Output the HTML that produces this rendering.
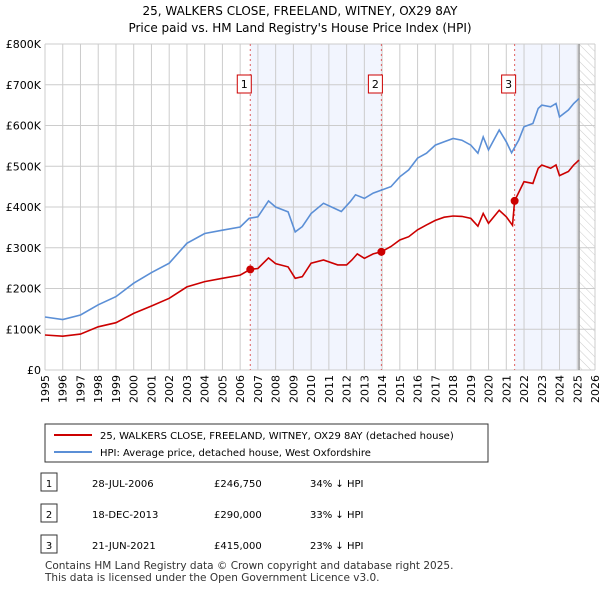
<!DOCTYPE html>
<html><head><meta charset="utf-8"><style>
body{margin:0;background:#fff;font-family:"DejaVu Sans",sans-serif;}
svg text{font-family:"DejaVu Sans","Liberation Sans",sans-serif;}
</style></head><body>
<svg id="c" width="600" height="590" xmlns="http://www.w3.org/2000/svg">
<defs><pattern id="hatch" width="6" height="6" patternUnits="userSpaceOnUse" patternTransform="rotate(-45)"><line x1="0" y1="0" x2="0" y2="6" stroke="#ccc" stroke-width="1"/></pattern></defs>
<text x="300" y="15" text-anchor="middle" font-size="12">25, WALKERS CLOSE, FREELAND, WITNEY, OX29 8AY</text>
<text x="300" y="32" text-anchor="middle" font-size="12">Price paid vs. HM Land Registry's House Price Index (HPI)</text>
<g id="plot"></g>
<g>
<rect x="45" y="424" width="443" height="38" fill="#fff" stroke="#333"/>
<line x1="54" y1="435" x2="92" y2="435" stroke="#cc0000" stroke-width="2"/>
<text x="100" y="439" font-size="10">25, WALKERS CLOSE, FREELAND, WITNEY, OX29 8AY (detached house)</text>
<line x1="54" y1="452" x2="92" y2="452" stroke="#5b8fd6" stroke-width="2"/>
<text x="100" y="456" font-size="10">HPI: Average price, detached house, West Oxfordshire</text>
</g>
<g id="table" font-size="10"></g>
<text x="45" y="569" font-size="10.5" fill="#333">Contains HM Land Registry data © Crown copyright and database right 2025.</text>
<text x="45" y="581" font-size="10.5" fill="#333">This data is licensed under the Open Government Licence v3.0.</text>
</svg>
<script>
const hpiYears=[1995,1996,1997,1998,1999,2000,2001,2002,2003,2004,2005,2006,2006.5,2007,2007.6,2008,2008.7,2009.1,2009.5,2010,2010.7,2011.7,2012.2,2012.5,2013,2013.5,2014,2014.5,2015,2015.5,2016,2016.5,2017,2017.5,2018,2018.5,2019,2019.4,2019.7,2020,2020.6,2021,2021.3,2021.7,2022,2022.5,2022.8,2023,2023.5,2023.8,2024,2024.5,2024.8,2025.1];
const hpiValues=[130,124,135,160,180,213,239,262,311,335,343,351,372,376,415,400,388,339,352,384,409,389,413,430,421,434,442,450,474,491,520,532,552,560,568,564,552,532,572,540,589,560,533,564,597,605,642,650,646,654,621,638,654,666];
const ppYears=[1995,1996,1997,1998,1999,2000,2001,2002,2003,2004,2005,2006,2006.57,2007,2007.6,2008,2008.7,2009.1,2009.5,2010,2010.7,2011.5,2012,2012.3,2012.6,2013,2013.5,2013.96,2014.5,2015,2015.5,2016,2016.5,2017,2017.5,2018,2018.5,2019,2019.4,2019.7,2020,2020.6,2021,2021.35,2021.47,2022,2022.5,2022.8,2023,2023.5,2023.8,2024,2024.5,2024.8,2025.1];
const ppValues=[86,83,88,106,116,139,157,176,204,217,225,233,247,249,275,261,253,225,229,262,270,258,258,270,285,274,285,290,303,319,327,344,356,367,375,378,377,372,353,384,360,392,376,355,415,462,458,495,503,495,503,477,487,503,515];
const saleYears=[2006.57,2013.96,2021.47];
const saleValues=[246.75,290,415];
const saleLabels=["1","2","3"];
const saleDates=["28-JUL-2006","18-DEC-2013","21-JUN-2021"];
const salePrices=["£246,750","£290,000","£415,000"];
const saleDiffs=["34% ↓ HPI","33% ↓ HPI","23% ↓ HPI"];
const yTicks=[0,100,200,300,400,500,600,700,800];
const yTickLabels=["£0","£100K","£200K","£300K","£400K","£500K","£600K","£700K","£800K"];
const dataEnd=2025.1;
const NS="http://www.w3.org/2000/svg";
const X0=45,X1=595,Y0=370,Y1=44;
const xs=y=>X0+(y-1995)/31*(X1-X0);
const ys=v=>Y0-v/800*(Y0-Y1);
const plot=document.getElementById('plot');
function mk(t,a,p){const e=document.createElementNS(NS,t);for(const k in a)e.setAttribute(k,a[k]);(p||plot).appendChild(e);return e;}
let r=mk('rect',{x:xs(saleYears[0]),y:Y1,width:xs(saleYears[1])-xs(saleYears[0]),height:Y0-Y1,fill:'#f2f5fe'});

r=mk('rect',{x:xs(saleYears[2]),y:Y1,width:xs(dataEnd)-xs(saleYears[2]),height:Y0-Y1,fill:'#f2f5fe'});

r=mk('rect',{x:xs(dataEnd),y:Y1,width:X1-xs(dataEnd),height:Y0-Y1,fill:'url(#hatch)'});

for(let yr=1995;yr<=2026;yr++){const x=xs(yr);
 let l=mk('line',{x1:x,x2:x,y1:Y1,y2:Y0,stroke:'#ccc'});
 let t=mk('text',{x:0,y:0,'font-size':11,'text-anchor':'end',transform:`translate(${x+4},${Y0+5}) rotate(-90)`});t.textContent=yr;
 }
yTicks.forEach((v,i)=>{const y=ys(v);
 let l=mk('line',{x1:X0,x2:X1,y1:y,y2:y,stroke:'#ccc'});
 let t=mk('text',{x:X0-4,y:y+4,'font-size':11,'text-anchor':'end'});t.textContent=yTickLabels[i];
 });
let ln=mk('line',{x1:xs(dataEnd),x2:xs(dataEnd),y1:Y1,y2:Y0,stroke:'#999','stroke-width':1.5});

saleYears.forEach((s,i)=>{const x=xs(s);
 let l=mk('line',{x1:x,x2:x,y1:Y1,y2:Y0,stroke:'#e06060','stroke-dasharray':'2,3'});
 
 let b=mk('rect',{x:x-13,y:75,width:14,height:18,fill:'#fff',stroke:'#cc0000'});
 
 let t=mk('text',{x:x-6,y:88,'font-size':11,'text-anchor':'middle'});t.textContent=saleLabels[i];
 });
function path(xa,va,col,name){const d=xa.map((y,i)=>(i?'L':'M')+xs(y).toFixed(1)+','+ys(va[i]).toFixed(1)).join('');
 const p=mk('path',{d:d,fill:'none',stroke:col,'stroke-width':1.6});}
path(hpiYears,hpiValues,'#5b8fd6','hpi-line');
path(ppYears,ppValues,'#cc0000','price-paid-line');
saleYears.forEach((s,i)=>{const c=mk('circle',{cx:xs(s),cy:ys(saleValues[i]),r:4,fill:'#cc0000'});
 });
const tb=document.getElementById('table');
saleLabels.forEach((l,i)=>{const y=483+i*31;
 let b=mk('rect',{x:41,y:y-10,width:16,height:18,fill:'#fff',stroke:'#333'},tb);
 const cells=[[49,l,'middle'],[92,saleDates[i],'start'],[214,salePrices[i],'start'],[310,saleDiffs[i],'start']];
 cells.forEach(c=>{let t=mk('text',{x:c[0],y:y+4,'text-anchor':c[2]},tb);t.textContent=c[1];
  });});
</script>
</body></html>
